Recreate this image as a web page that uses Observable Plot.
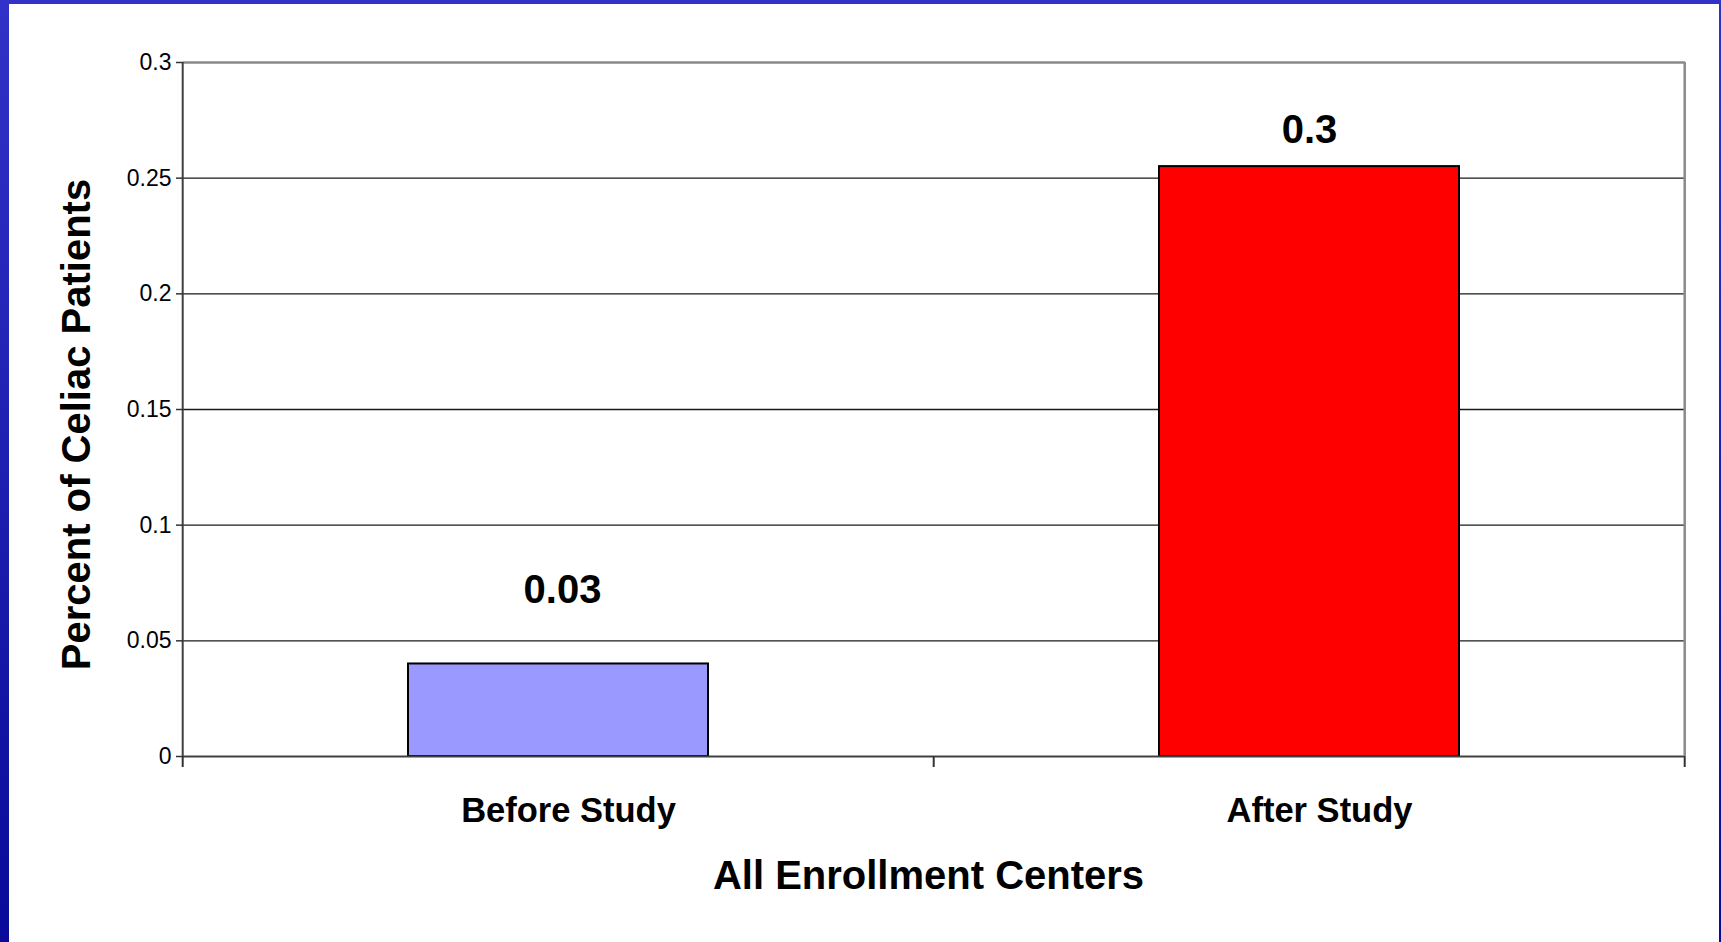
<!DOCTYPE html>
<html>
<head>
<meta charset="utf-8">
<script src="https://cdn.jsdelivr.net/npm/d3@7"></script>
<script src="https://cdn.jsdelivr.net/npm/@observablehq/plot@0.6"></script>
<style>
html, body { margin: 0; padding: 0; background: #fff; width: 1721px; height: 942px; overflow: hidden; }
#wrap { position: relative; width: 1721px; height: 942px; }
#chart svg { display: block; }
.strip { position: absolute; }
#topstrip { left: 0; top: 0; width: 1721px; height: 4px; background: #3232c8; }
#leftstrip { left: 0; top: 0; width: 9px; height: 942px; background: linear-gradient(#3232c8, #0a0a98); }
#rightstrip { right: 0; top: 0; width: 2px; height: 942px; background: linear-gradient(#3232c8, #0a0a98); }
</style>
</head>
<body>
<div id="wrap">
  <div id="chart"></div>
  <div class="strip" id="topstrip"></div>
  <div class="strip" id="leftstrip"></div>
  <div class="strip" id="rightstrip"></div>
</div>
<script>
const categories = ["Before Study", "After Study"];
const values = [0.04, 0.255];
const valueLabels = ["0.03", "0.3"];
const barColors = ["#9999ff", "#ff0000"];
const yTicks = [0, 0.05, 0.1, 0.15, 0.2, 0.25, 0.3];
const yTitle = "Percent of Celiac Patients";
const xTitle = "All Enrollment Centers";

const font = "'Liberation Sans', Arial, Helvetica, sans-serif";
const data = categories.map((c, i) => ({category: c, value: values[i], label: valueLabels[i], color: barColors[i]}));
const paddingInner = 0.6, paddingOuter = 0.3;

// Left axis line, right frame edge and category boundary ticks, derived from the band scale
const frameAndTicks = (index, scales) => {
  const x = scales.x, y = scales.y;
  const step = x(categories[1]) - x(categories[0]);
  const bw = step * (1 - paddingInner);
  const gap = step * paddingInner / 2;
  const xs = [x(categories[0]) - gap, ...categories.map(c => x(c) + bw + gap)];
  const y0 = y(0), yTop = y(yTicks[yTicks.length - 1]);
  const g = d3.create("svg:g");
  g.append("line").attr("x1", xs[xs.length - 1]).attr("x2", xs[xs.length - 1])
    .attr("y1", yTop).attr("y2", y0).attr("stroke", "#8a8a8a").attr("stroke-width", 2.5);
  g.append("line").attr("x1", xs[0]).attr("x2", xs[0])
    .attr("y1", yTop).attr("y2", y0).attr("stroke", "#404040").attr("stroke-width", 2);
  for (const v of xs) {
    g.append("line").attr("x1", v).attr("x2", v)
      .attr("y1", y0).attr("y2", y0 + 11).attr("stroke", "#333").attr("stroke-width", 2);
  }
  return g.node();
};

const chart = Plot.plot({
  width: 1721,
  height: 942,
  marginLeft: 183,
  marginRight: 36,
  marginTop: 62,
  marginBottom: 186,
  style: {fontFamily: font, background: "transparent", color: "black"},
  x: {domain: categories, paddingInner, paddingOuter, label: null},
  y: {domain: [0, 0.3], label: null},
  marks: [
    Plot.ruleY(yTicks.slice(1, -1), {stroke: "#1a1a1a", strokeWidth: 1.3}),
    Plot.ruleY([yTicks[yTicks.length - 1]], {stroke: "#8a8a8a", strokeWidth: 2.5}),
    Plot.barY(data, {x: "category", y: "value", fill: "color", stroke: "black", strokeWidth: 2}),
    Plot.ruleY([0], {stroke: "#404040", strokeWidth: 2}),
    frameAndTicks,
    Plot.text(data.slice(0, 1), {x: "category", y: "value", text: "label", lineAnchor: "bottom", dy: -61, dx: 4, fontSize: 40, fontWeight: "bold", fill: "black"}),
    Plot.text(data.slice(1), {x: "category", y: "value", text: "label", lineAnchor: "bottom", dy: -24, fontSize: 40, fontWeight: "bold", fill: "black"}),
    Plot.axisY({ticks: yTicks, tickFormat: d => String(d), tickSize: 7, tickPadding: 5, fontSize: 23, fill: "black", stroke: "#333", strokeWidth: 1.5, label: null}),
    Plot.axisX({tickSize: 0, tickPadding: 41, fontSize: 34.5, fontWeight: "bold", fill: "black", dx: 10, label: null}),
    Plot.text([xTitle], {frameAnchor: "bottom", lineAnchor: "bottom", dy: 132, dx: -6, fontSize: 40, fontWeight: "bold", fill: "black"}),
    Plot.text([yTitle], {frameAnchor: "left", textAnchor: "middle", rotate: -90, lineAnchor: "bottom", dx: -94, dy: 15, fontSize: 40, fontWeight: "bold", fill: "black"})
  ]
});
document.getElementById("chart").appendChild(chart);
</script>
</body>
</html>
